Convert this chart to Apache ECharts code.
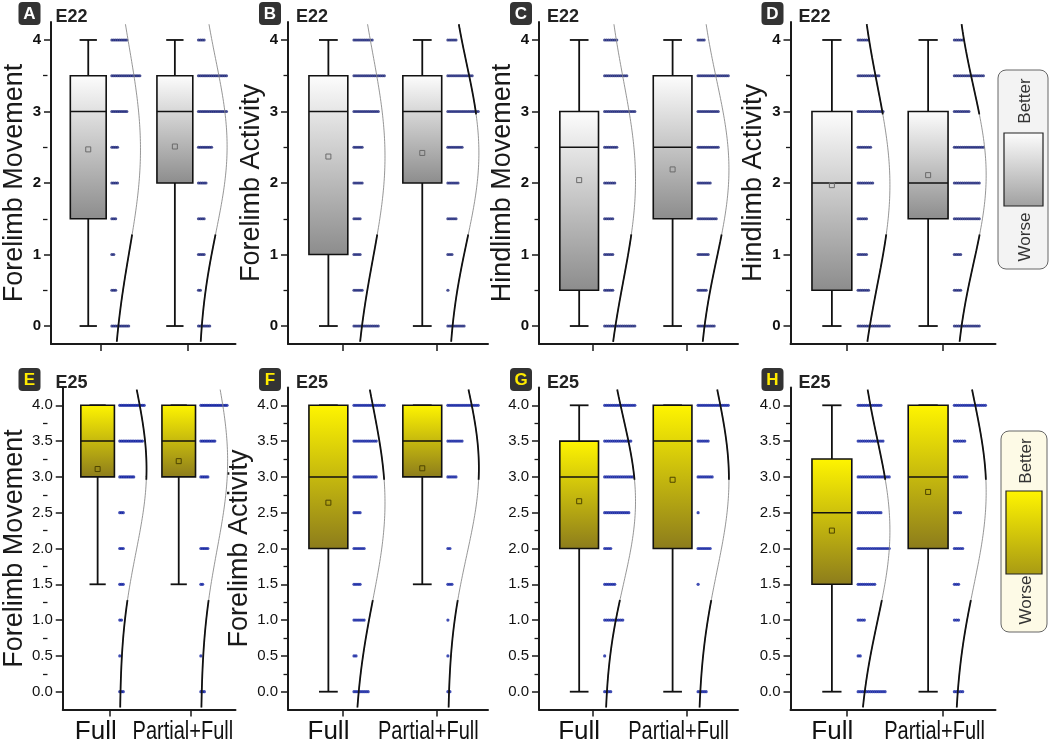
<!DOCTYPE html>
<html><head><meta charset="utf-8">
<script src="https://cdn.jsdelivr.net/npm/echarts@6/dist/echarts.min.js"></script>
<style>html,body{margin:0;padding:0;background:#fff}#c{width:1050px;height:743px}</style>
</head><body><div id="c"></div>
<script>
// ---------------- DATA ----------------
const categories = ['Full', 'Partial+Full'];
const panelLetters = ['A', 'B', 'C', 'D', 'E', 'F', 'G', 'H'];
const stageLabels = ['E22', 'E22', 'E22', 'E22', 'E25', 'E25', 'E25', 'E25'];
const yNames = ['Forelimb Movement', 'Forelimb Activity', 'Hindlimb Movement', 'Hindlimb Activity',
                'Forelimb Movement', 'Forelimb Activity', '', ''];
const scoreLevels = [0, 0.5, 1, 1.5, 2, 2.5, 3, 3.5, 4];
const yTicksRow1 = [0, 1, 2, 3, 4];
const yTickLabelsRow1 = ['0', '1', '2', '3', '4'];
const yMinorRow1 = [0.5, 1.5, 2.5, 3.5];
const yTicksRow2 = [0, 0.5, 1, 1.5, 2, 2.5, 3, 3.5, 4];
const yTickLabelsRow2 = ['0.0', '0.5', '1.0', '1.5', '2.0', '2.5', '3.0', '3.5', '4.0'];
const yMinorRow2 = [0.25, 0.75, 1.25, 1.75, 2.25, 2.75, 3.25, 3.75];
const legendTop = 'Better';
const legendBottom = 'Worse';

// box statistics per panel: [whiskerLow, Q1, median, Q3, whiskerHigh, mean] for Full, Partial+Full
const boxA = [[0, 1.5, 3, 3.5, 4, 2.47], [0, 2, 3, 3.5, 4, 2.51]];
const boxB = [[0, 1, 3, 3.5, 4, 2.37], [0, 2, 3, 3.5, 4, 2.42]];
const boxC = [[0, 0.5, 2.5, 3, 4, 2.04], [0, 1.5, 2.5, 3.5, 4, 2.19]];
const boxD = [[0, 0.5, 2, 3, 4, 1.97], [0, 1.5, 2, 3, 4, 2.11]];
const boxE = [[1.5, 3, 3.5, 4, 4, 3.11], [1.5, 3, 3.5, 4, 4, 3.22]];
const boxF = [[0, 2, 3, 4, 4, 2.64], [1.5, 3, 3.5, 4, 4, 3.12]];
const boxG = [[0, 2, 3, 3.5, 4, 2.66], [0, 2, 3.5, 4, 4, 2.96]];
const boxH = [[0, 1.5, 2.5, 3.25, 4, 2.25], [0, 2, 3, 4, 4, 2.79]];

// number of animals at each score level (0, 0.5, ... 4) for Full, Partial+Full
const countsA = [[10, 3, 2, 3, 4, 4, 9, 16, 9], [7, 2, 4, 4, 5, 8, 16, 16, 4]];
const countsB = [[13, 5, 4, 4, 5, 5, 13, 16, 10], [9, 1, 3, 5, 6, 8, 16, 13, 5]];
const countsC = [[16, 5, 5, 5, 6, 7, 16, 12, 7], [9, 5, 6, 10, 7, 11, 11, 16, 4]];
const countsD = [[16, 6, 5, 5, 8, 7, 13, 11, 6], [13, 4, 4, 13, 13, 15, 8, 15, 5]];
const countsE = [[3, 1, 2, 3, 3, 3, 9, 14, 15], [3, 1, 0, 2, 5, 0, 5, 9, 16]];
const countsF = [[8, 2, 6, 4, 6, 4, 12, 12, 16], [2, 1, 1, 3, 2, 0, 5, 8, 16]];
const countsG = [[4, 1, 10, 6, 4, 13, 15, 14, 16], [5, 0, 0, 1, 7, 1, 8, 6, 16]];
const countsH = [[14, 2, 4, 9, 16, 12, 16, 13, 12], [5, 0, 3, 3, 5, 4, 7, 6, 16]];

// whether the upper part of the fitted curve is drawn heavy (as in the picture)
const heavyTop = [[0, 0], [0, 1], [0, 0], [1, 1], [1, 0], [1, 1], [1, 1], [1, 1]];

const boxes = [boxA, boxB, boxC, boxD, boxE, boxF, boxG, boxH];
const counts = [countsA, countsB, countsC, countsD, countsE, countsF, countsG, countsH];

// ---------------- LAYOUT / STYLE ----------------
const colLeft = [47.5, 288, 539, 790.5];
const colWidth = [188, 200, 199, 205];
const rowTop = [22.1, 387.4];
const rowHeight = [321.8, 322.2];
const X_MIN = 0.42, X_MAX = 2.55, Y_MIN = -0.25, Y_MAX = 4.25;
const BOX_OFF = -0.15, BOX_HALF = 0.207, CAP_HALF = 0.1;
const DOT_START = 0.123, DOT_STEP = 0.0215;
const CURVE_AMP = 0.33, CURVE_Y0 = -0.22, CURVE_Y1 = 4.22;
const FONT = "'Liberation Sans', Arial, sans-serif";
const AXIS_COLOR = '#1a1a1a';

const grayGrad = () => new echarts.graphic.LinearGradient(0, 0, 0, 1, [
  { offset: 0, color: '#fdfdfd' }, { offset: 1, color: '#8c8c8c' }]);
const yellowGrad = () => new echarts.graphic.LinearGradient(0, 0, 0, 1, [
  { offset: 0, color: '#fff500' }, { offset: 1, color: '#8c7c1c' }]);

function sdFromCounts(c) {
  let n = 0, s = 0;
  c.forEach((k, i) => { n += k; s += k * scoreLevels[i]; });
  const m = s / n;
  let v = 0;
  c.forEach((k, i) => { v += k * (scoreLevels[i] - m) * (scoreLevels[i] - m); });
  return Math.sqrt(v / (n - 1));
}

const chart = echarts.init(document.getElementById('c'), null, { renderer: 'canvas' });
const grids = [], xAxes = [], yAxes = [], series = [], graphics = [];

for (let i = 0; i < 8; i++) {
  const row = i < 4 ? 0 : 1, col = i % 4;
  const left = colLeft[col];
  const yTicks = row === 0 ? yTicksRow1 : yTicksRow2;
  const yLabels = row === 0 ? yTickLabelsRow1 : yTickLabelsRow2;
  const yMinor = row === 0 ? yMinorRow1 : yMinorRow2;

  grids.push({ left: left, width: colWidth[col], top: rowTop[row], height: rowHeight[row] });

  xAxes.push({
    gridIndex: i, type: 'value', min: X_MIN, max: X_MAX,
    axisLine: { show: true, onZero: false, lineStyle: { color: AXIS_COLOR, width: 2 } },
    axisTick: { show: true, customValues: [1, 2], length: 7, lineStyle: { color: AXIS_COLOR, width: 1.5 } },
    axisLabel: { show: false },
    splitLine: { show: false }
  });

  yAxes.push({
    gridIndex: i, type: 'value', min: Y_MIN, max: Y_MAX, position: 'left',
    axisLine: { show: true, onZero: false, lineStyle: { color: AXIS_COLOR, width: 2 } },
    axisTick: { show: true, customValues: yTicks, length: 7, lineStyle: { color: AXIS_COLOR, width: 1.5 } },
    axisLabel: {
      customValues: yTicks, margin: 10,
      formatter: v => yLabels[yTicks.indexOf(v)],
      fontSize: 15, fontWeight: row === 0 ? 'bold' : 'normal',
      fontFamily: FONT, color: '#111'
    },
    name: yNames[i], nameLocation: 'middle', nameGap: 23,
    nameTextStyle: { fontSize: 27, fontFamily: FONT, color: '#1a1a1a' },
    splitLine: { show: false }
  });
  yAxes.push({
    gridIndex: i, type: 'value', min: Y_MIN, max: Y_MAX, position: 'right', offset: -colWidth[col],
    axisLine: { show: false },
    axisTick: { show: true, inside: true, customValues: yMinor, length: 4.5, lineStyle: { color: AXIS_COLOR, width: 1.3 } },
    axisLabel: { show: false }, splitLine: { show: false }
  });

  const xi = i, yi = 2 * i;
  const isYellow = row === 1;

  // boxes
  series.push({
    type: 'custom', xAxisIndex: xi, yAxisIndex: yi, silent: true, clip: false,
    data: boxes[i].map((b, g) => [g + 1].concat(b)),
    encode: { x: 0, y: [1, 2, 3, 4, 5] },
    renderItem: (params, api) => {
      const cat = api.value(0);
      const lo = api.value(1), q1 = api.value(2), md = api.value(3), q3 = api.value(4), hi = api.value(5), mean = api.value(6);
      const cx = cat + BOX_OFF;
      const tl = api.coord([cx - BOX_HALF, q3]);
      const br = api.coord([cx + BOX_HALF, q1]);
      const cTop = api.coord([cx, hi]);
      const cBot = api.coord([cx, lo]);
      const capL = api.coord([cx - CAP_HALF, hi])[0];
      const capR = api.coord([cx + CAP_HALF, hi])[0];
      const mdY = api.coord([cx, md])[1];
      const mP = api.coord([cx, mean]);
      const lineSt = { stroke: '#111', lineWidth: 1.8 };
      return {
        type: 'group', children: [
          { type: 'line', shape: { x1: cTop[0], y1: cTop[1], x2: cTop[0], y2: tl[1] }, style: lineSt },
          { type: 'line', shape: { x1: cBot[0], y1: br[1], x2: cBot[0], y2: cBot[1] }, style: lineSt },
          { type: 'line', shape: { x1: capL, y1: cTop[1], x2: capR, y2: cTop[1] }, style: lineSt },
          { type: 'line', shape: { x1: capL, y1: cBot[1], x2: capR, y2: cBot[1] }, style: lineSt },
          { type: 'rect', shape: { x: tl[0], y: tl[1], width: br[0] - tl[0], height: br[1] - tl[1] },
            style: { fill: isYellow ? yellowGrad() : grayGrad(), stroke: '#111', lineWidth: 1.6 } },
          { type: 'line', shape: { x1: tl[0], y1: mdY, x2: br[0], y2: mdY }, style: { stroke: '#111', lineWidth: 1.5 } },
          { type: 'rect', shape: { x: mP[0] - 2.5, y: mP[1] - 2.5, width: 5, height: 5 },
            style: { fill: 'none', stroke: isYellow ? '#4d4400' : '#6a6a6a', lineWidth: 1 } }
        ]
      };
    }
  });

  // dots
  const dotData = [];
  counts[i].forEach((c, g) => {
    c.forEach((k, li) => {
      for (let d = 0; d < k; d++) dotData.push([g + 1 + DOT_START + d * DOT_STEP, scoreLevels[li]]);
    });
  });
  series.push({
    type: 'scatter', xAxisIndex: xi, yAxisIndex: yi, silent: true, symbol: 'circle', symbolSize: 3.2,
    itemStyle: { color: row === 0 ? '#1c2478' : '#1020a0' }, data: dotData, animation: false
  });

  // fitted normal curves
  for (let g = 0; g < 2; g++) {
    const mu = boxes[i][g][5];
    const sd = sdFromCounts(counts[i][g]);
    const pts = [];
    for (let y = CURVE_Y0; y <= CURVE_Y1 + 1e-9; y += 0.02) {
      pts.push([g + 1 + DOT_START + CURVE_AMP * Math.exp(-0.5 * Math.pow((y - mu) / sd, 2)), y]);
    }
    series.push({
      type: 'line', xAxisIndex: xi, yAxisIndex: yi, silent: true, symbol: 'none', animation: false,
      data: pts, lineStyle: { color: '#8a8a8a', width: 0.9 }, z: 3
    });
    series.push({
      type: 'line', xAxisIndex: xi, yAxisIndex: yi, silent: true, symbol: 'none', animation: false,
      data: pts.filter(p => p[1] <= 1.3), lineStyle: { color: '#111', width: 1.8 }, z: 4
    });
    if (heavyTop[i][g]) {
      series.push({
        type: 'line', xAxisIndex: xi, yAxisIndex: yi, silent: true, symbol: 'none', animation: false,
        data: pts.filter(p => p[1] >= 2.95), lineStyle: { color: '#111', width: 1.8 }, z: 4
      });
    }
  }

  // panel letter + stage label
  const ly = row === 0 ? 2 : 368;
  graphics.push({
    type: 'group', children: [
      { type: 'rect', shape: { x: left - 29, y: ly, width: 22, height: 23, r: 4 }, style: { fill: '#333' } },
      { type: 'text', x: left - 18, y: ly + 12, style: { text: panelLetters[i], fill: row === 0 ? '#fff' : '#ffeb00',
        font: 'bold 17px ' + FONT, textAlign: 'center', textVerticalAlign: 'middle' } },
      { type: 'text', x: left + 8, y: ly + 15, style: { text: stageLabels[i], fill: '#222',
        font: 'bold 18px ' + FONT, textAlign: 'left', textVerticalAlign: 'middle' } }
    ]
  });
}

// legend boxes
function legendBox(x, y, w, h, ix, iy, iw, ih, bg, grad, tCy, bCy) {
  return {
    type: 'group', children: [
      { type: 'rect', shape: { x: x, y: y, width: w, height: h, r: 8 }, style: { fill: bg, stroke: '#666', lineWidth: 1 } },
      { type: 'rect', shape: { x: ix, y: iy, width: iw, height: ih }, style: { fill: grad, stroke: '#222', lineWidth: 1.2 } },
      { type: 'text', x: x + w / 2 + 2, y: tCy, rotation: Math.PI / 2,
        style: { text: legendTop, font: '17px ' + FONT, fill: '#333', textAlign: 'center', textVerticalAlign: 'middle' } },
      { type: 'text', x: x + w / 2 + 2, y: bCy, rotation: Math.PI / 2,
        style: { text: legendBottom, font: '17px ' + FONT, fill: '#333', textAlign: 'center', textVerticalAlign: 'middle' } }
    ]
  };
}
graphics.push(legendBox(998, 70, 50, 199, 1004, 133, 39, 73, '#f3f3f3',
  new echarts.graphic.LinearGradient(0, 0, 0, 1, [{ offset: 0, color: '#fdfdfd' }, { offset: 1, color: '#a0a0a0' }]), 101, 237));
graphics.push(legendBox(1001, 431, 46, 201, 1006, 491, 36, 83, '#fdfae6',
  new echarts.graphic.LinearGradient(0, 0, 0, 1, [{ offset: 0, color: '#fff500' }, { offset: 1, color: '#a89a14' }]), 461, 600));

chart.setOption({
  animation: false,
  backgroundColor: '#fff',
  grid: grids, xAxis: xAxes, yAxis: yAxes, series: series
});

// category labels under the bottom row, placed through the axis scale
const labelShift = [-14, -8];
const labelScaleX = [1, 0.77];
for (let i = 4; i < 8; i++) {
  categories.forEach((name, g) => {
    const px = chart.convertToPixel({ xAxisIndex: i }, g + 1);
    graphics.push({
      type: 'text', x: px + labelShift[g], y: 732, scaleX: labelScaleX[g], originX: 0, originY: 0,
      style: { text: name, font: '26px ' + FONT, fill: '#111', textAlign: 'center', textVerticalAlign: 'middle' }
    });
  });
}
chart.setOption({ graphic: graphics });
</script>
</body></html>
